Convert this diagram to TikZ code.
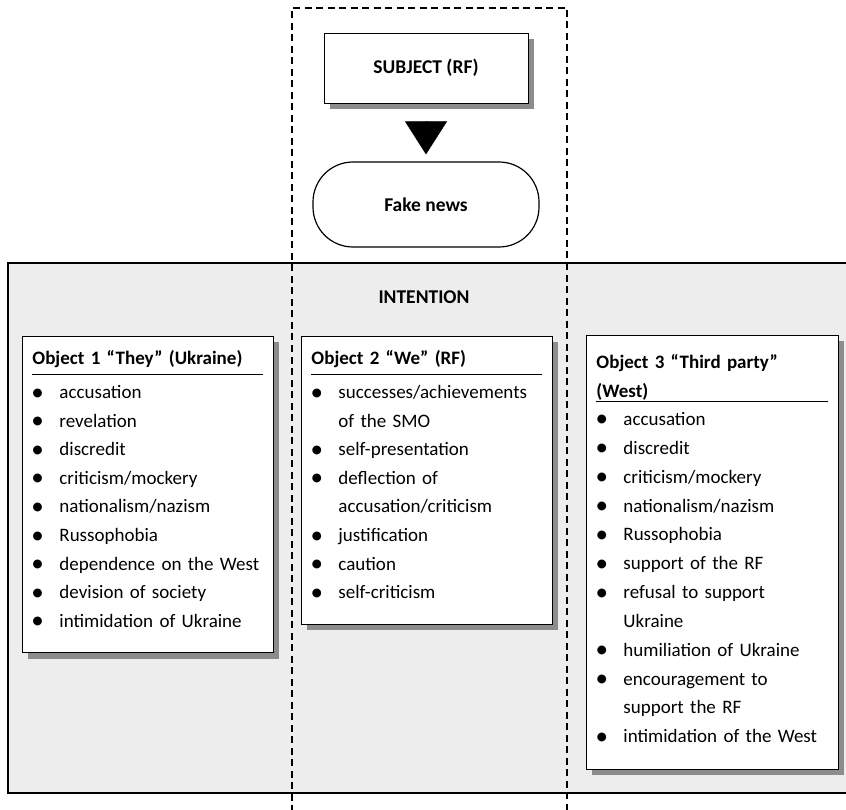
\documentclass[tikz,border=0pt]{standalone}
\usepackage{fontspec}
\setmainfont{Carlito}
\usepackage{enumitem}
\usetikzlibrary{shadows,arrows.meta}
\newcommand{\objhead}[1]{{\bfseries\strut #1\par}\vspace{1.4pt}\hrule height 0.8pt\vspace{3.2pt}}
\newcommand{\objend}[1]{\par\vspace{#1}\hrule height 0pt width 0pt}
\newcommand{\dotlabel}{\raisebox{-1.6pt}{\fontsize{25}{25}\selectfont\textbullet}}
\newlist{intlist}{itemize}{1}
\setlist[intlist]{label=\dotlabel, leftmargin=27pt, labelsep=15.5pt, topsep=0pt, partopsep=0pt, parsep=0pt, itemsep=0pt}
\tikzset{
	shadowed/.style={drop shadow={shadow xshift=6pt, shadow yshift=-6pt, fill=black!45, opacity=1}},
	objbox/.style={draw, fill=white, line width=0.9pt, shadowed, anchor=north west, inner xsep=10pt, inner ysep=8pt, text width=#1, align=left, font=\fontsize{19}{28.6}\selectfont},
	headbox/.style={draw, fill=white, line width=0.9pt, font=\fontsize{19.5}{23}\selectfont\bfseries},
}
\begin{document}
\begin{tikzpicture}[x=1pt, y=-1pt]
	\useasboundingbox (0,0) rectangle (846,810);
	\draw[line width=1.8pt, fill=black!7] (8,263) rectangle (852,793);
	\draw[line width=1.2pt, dash pattern=on 7pt off 4.5pt] (292,812) |- (567,8) -- (567,812);
	\node[headbox, shadowed, minimum width=204pt, minimum height=70pt] (subj) at (426,68) {SUBJECT (RF)};
	\node[headbox, line width=1.2pt, rounded corners=40pt, minimum width=226pt, minimum height=85pt] (fake) at (426,204.5) {Fake news};
	\draw[line width=0.4pt, -{Triangle[length=33pt,width=42pt]}, shorten <=19pt, shorten >=7pt] (subj) -- (fake);
	\node[font=\fontsize{19.5}{23}\selectfont\bfseries] (intent) at (424,297) {INTENTION};
	\node[objbox=231pt] (obj1) at (22,336) {\objhead{Object 1 “They” (Ukraine)}
		\begin{intlist}
			\item\strut accusation
			\item\strut revelation
			\item\strut discredit
			\item\strut criticism/mockery
			\item\strut nationalism/nazism
			\item\strut Russophobia
			\item\strut dependence on the West
			\item\strut devision of society
			\item\strut intimidation of Ukraine
		\end{intlist}\objend{9pt}};
	\node[objbox=231pt] (obj2) at (301,336) {\objhead{Object 2 “We” (RF)}
		\begin{intlist}
			\item\strut successes/achievements\newline of the SMO
			\item\strut self-presentation
			\item\strut deflection of\newline accusation/criticism
			\item\strut justification
			\item\strut caution
			\item\strut self-criticism
		\end{intlist}\objend{9pt}};
	\node[objbox=232pt, inner ysep=13pt] (obj3) at (586,335) {\objhead{Object 3 “Third party”\newline (West)}
		\begin{intlist}[itemsep=0.3pt]
			\item\strut accusation
			\item\strut discredit
			\item\strut criticism/mockery
			\item\strut nationalism/nazism
			\item\strut Russophobia
			\item\strut support of the RF
			\item\strut refusal to support\newline Ukraine
			\item\strut humiliation of Ukraine
			\item\strut encouragement to\newline support the RF
			\item\strut intimidation of the West
		\end{intlist}\objend{5pt}};
\end{tikzpicture}
\end{document}
